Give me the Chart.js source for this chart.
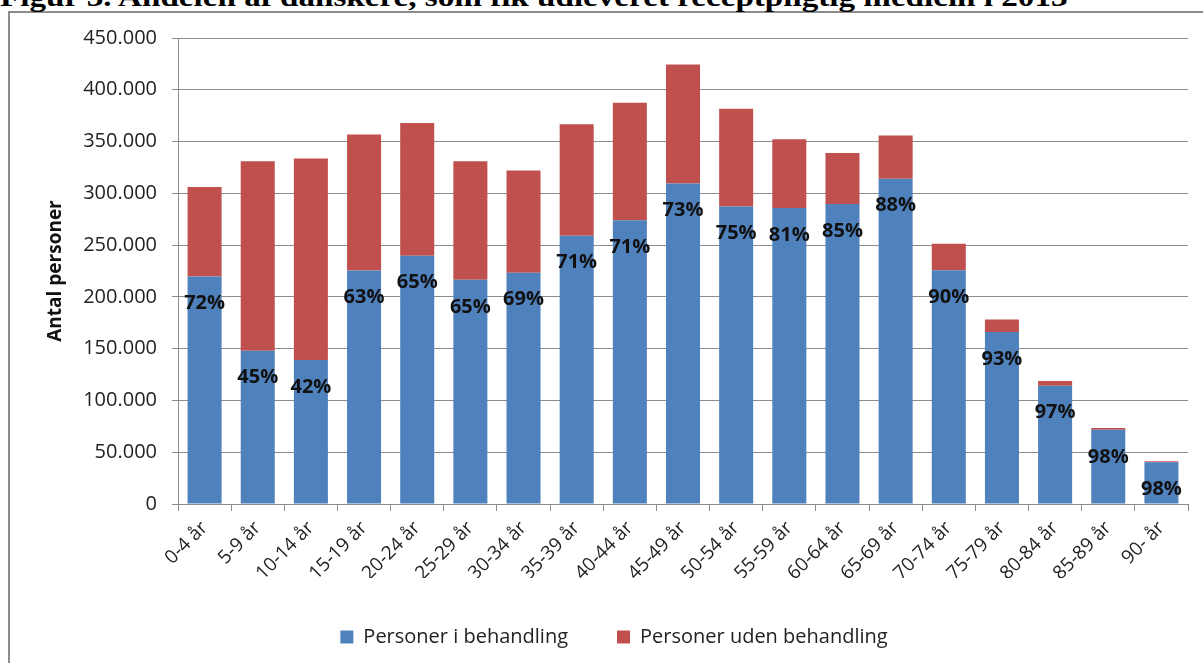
<!DOCTYPE html>
<html>
<head>
<meta charset="utf-8">
<script src="https://cdn.jsdelivr.net/npm/chart.js@4"></script>
<style>
  html, body { margin: 0; padding: 0; background: #fff; overflow: hidden; }
  #wrap { position: relative; width: 1203px; height: 663px; }
  #frame { position: absolute; left: 8px; top: 11px; width: 1300px; height: 700px; border: 2px solid #8c8c8c; }
  #title { position: absolute; left: 0; top: -17px; font: bold 28px "Liberation Serif", serif; line-height: 28px;
           white-space: nowrap; transform-origin: 0 0; color: #000; }
  #box { position: absolute; left: 0; top: 0; width: 1203px; height: 663px; }
</style>
</head>
<body>
<div id="wrap">
  <div id="frame"></div>
  <div id="title">Figur 3. Andelen af danskere, som fik udleveret receptpligtig medicin i 2013</div>
  <div id="box"><canvas id="chart"></canvas></div>
</div>
<script>
const ageGroups = ['0-4 år', '5-9 år', '10-14 år', '15-19 år', '20-24 år', '25-29 år', '30-34 år',
    '35-39 år', '40-44 år', '45-49 år', '50-54 år', '55-59 år', '60-64 år', '65-69 år',
    '70-74 år', '75-79 år', '80-84 år', '85-89 år', '90- år'];

// personer i behandling (blå)
const treated = [219700, 148100, 139000, 225500, 239700, 216500, 223300, 259100, 273900, 309400,
    287400, 285800, 289700, 314200, 225800, 166100, 114200, 71600, 40300];

// personer uden behandling (rød)
const untreated = [86400, 182900, 194600, 131300, 128300, 114500, 98700, 107700, 113500, 115100,
    94200, 66500, 49300, 41600, 25500, 12000, 4500, 1900, 1000];

const shareLabels = ['72%', '45%', '42%', '63%', '65%', '65%', '69%', '71%', '71%', '73%',
    '75%', '81%', '85%', '88%', '90%', '93%', '97%', '98%', '98%'];

const yTicks = [0, 50000, 100000, 150000, 200000, 250000, 300000, 350000, 400000, 450000];

// stretch the cut-off title to the width seen in the figure
const titleEl = document.getElementById('title');
titleEl.style.transform = 'scaleX(' + (1067 / titleEl.offsetWidth) + ')';

const gridColor = '#8c8c8c';
const textColor = '#222';

const shareLabelPlugin = {
    id: 'shareLabels',
    afterDatasetsDraw(chart) {
        const ctx = chart.ctx;
        const meta = chart.getDatasetMeta(0);
        ctx.save();
        ctx.font = 'bold 20px "Open Sans"';
        ctx.fillStyle = '#111';
        ctx.textAlign = 'center';
        ctx.textBaseline = 'middle';
        meta.data.forEach((bar, i) => {
            ctx.fillText(shareLabels[i], bar.x, bar.y + 27);
        });
        ctx.restore();
    }
};

new Chart('chart', {
    type: 'bar',
    data: {
        labels: ageGroups,
        datasets: [
            {
                label: 'Personer i behandling',
                data: treated,
                backgroundColor: '#4f81bd',
                borderWidth: 0,
                barPercentage: 0.64,
                categoryPercentage: 1
            },
            {
                label: 'Personer uden behandling',
                data: untreated,
                backgroundColor: '#c0504d',
                borderWidth: 0,
                barPercentage: 0.64,
                categoryPercentage: 1
            }
        ]
    },
    options: {
        responsive: true,
        maintainAspectRatio: false,
        animation: false,
        layout: { padding: { left: 40, right: 15, top: 38, bottom: 6 } },
        plugins: {
            legend: {
                position: 'bottom',
                maxHeight: 80,
                labels: {
                    boxWidth: 13,
                    boxHeight: 13,
                    padding: 49,
                    color: textColor,
                    font: { family: 'Open Sans', size: 20 }
                }
            },
            tooltip: { enabled: false }
        },
        scales: {
            x: {
                stacked: true,
                afterFit(scale) { scale.height = 74; },
                grid: {
                    offset: true,
                    drawOnChartArea: false,
                    drawTicks: true,
                    tickLength: 7,
                    color: gridColor
                },
                border: { color: gridColor, width: 1 },
                ticks: {
                    minRotation: 45,
                    maxRotation: 45,
                    padding: 6,
                    color: textColor,
                    font: { family: 'Open Sans', size: 19 }
                }
            },
            y: {
                stacked: true,
                min: 0,
                max: 450000,
                afterFit(scale) { scale.width = 138; },
                afterBuildTicks(scale) { scale.ticks = yTicks.map(v => ({ value: v })); },
                grid: { color: gridColor, tickLength: 6 },
                border: { color: gridColor, width: 1 },
                ticks: {
                    padding: 15,
                    color: textColor,
                    font: { family: 'Open Sans', size: 20 },
                    callback: v => v.toLocaleString('da-DK')
                },
                title: {
                    display: true,
                    text: 'Antal personer',
                    color: '#111',
                    padding: 4,
                    font: { family: 'Open Sans', size: 19, weight: 'bold' }
                }
            }
        }
    },
    plugins: [shareLabelPlugin]
});
</script>
</body>
</html>
